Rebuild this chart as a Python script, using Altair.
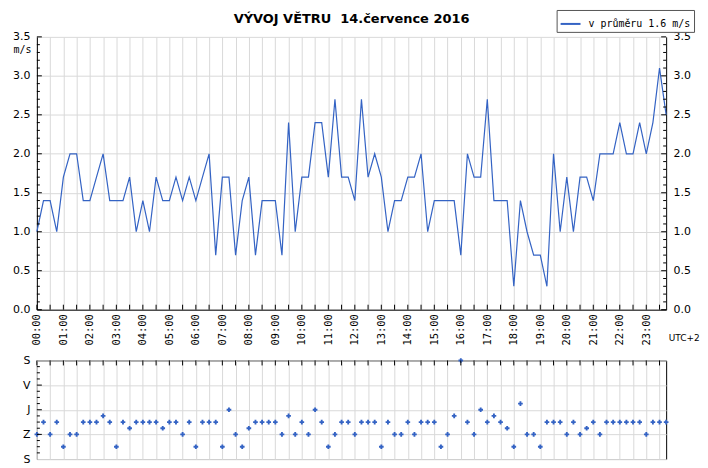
import altair as alt
import pandas as pd

# ---- data (15-minute records, 14 July 2016) ----
speed = [1.0, 1.4, 1.4, 1.0, 1.7, 2.0, 2.0, 1.4, 1.4, 1.7,
         2.0, 1.4, 1.4, 1.4, 1.7, 1.0, 1.4, 1.0, 1.7, 1.4,
         1.4, 1.7, 1.4, 1.7, 1.4, 1.7, 2.0, 0.7, 1.7, 1.7,
         0.7, 1.4, 1.7, 0.7, 1.4, 1.4, 1.4, 0.7, 2.4, 1.0,
         1.7, 1.7, 2.4, 2.4, 1.7, 2.7, 1.7, 1.7, 1.4, 2.7,
         1.7, 2.0, 1.7, 1.0, 1.4, 1.4, 1.7, 1.7, 2.0, 1.0,
         1.4, 1.4, 1.4, 1.4, 0.7, 2.0, 1.7, 1.7, 2.7, 1.4,
         1.4, 1.4, 0.3, 1.4, 1.0, 0.7, 0.7, 0.3, 2.0, 1.0,
         1.7, 1.0, 1.7, 1.7, 1.4, 2.0, 2.0, 2.0, 2.4, 2.0,
         2.0, 2.4, 2.0, 2.4, 3.1, 2.5]

direction = [270, 225, 270, 225, 315, 270, 270, 225, 225, 225,
             202.5, 225, 315, 225, 247.5, 225, 225, 225, 225, 247.5,
             225, 225, 270, 225, 315, 225, 225, 225, 315, 180,
             270, 315, 247.5, 225, 225, 225, 225, 270, 202.5, 270,
             225, 270, 180, 225, 315, 270, 225, 225, 270, 225,
             225, 225, 315, 225, 270, 270, 225, 270, 225, 225,
             225, 315, 270, 202.5, 0, 225, 270, 180, 225, 202.5,
             225, 247.5, 315, 157.5, 270, 270, 315, 225, 225, 225,
             270, 225, 270, 247.5, 225, 270, 225, 225, 225, 225,
             225, 225, 270, 225, 225, 225]

hours = [i * 0.25 for i in range(len(speed))]

title_text = "VÝVOJ VĚTRU\u00a0 14.července 2016"
legend_label = "v průměru 1.6 m/s"
tz_label = "UTC+2"
unit_label = "m/s"

half_hours = [i * 0.5 for i in range(48)]
y_major = [i * 0.5 for i in range(8)]
y_minor = [round(i * 0.1, 1) for i in range(36) if i % 5 != 0]
d_major = [0, 90, 180, 270, 360]
d_minor = [i * 22.5 for i in range(17) if i % 4 != 0]

# ---- styling ----
W, H1, H2 = 632, 274, 99
BLUE = "#3463c4"
GRID = "#d9d9d9"
FONT = "DejaVu Sans"
MONO = "DejaVu Sans Mono"

df = pd.DataFrame({"t": hours, "v": speed, "d": direction, "s": [legend_label] * len(speed)})
df_xt = pd.DataFrame({"t": half_hours})
df_ymaj = pd.DataFrame({"v": y_major})
df_ymin = pd.DataFrame({"v": y_minor})
df_dmaj = pd.DataFrame({"d": d_major[1:-1]})
df_dmin = pd.DataFrame({"d": d_minor})

xscale = alt.Scale(domain=[0, 23.75], nice=False, zero=False)
yscale = alt.Scale(domain=[0, 3.5], nice=False)
dscale = alt.Scale(domain=[0, 360], nice=False, reverse=True)

x_axis = alt.Axis(
    values=half_hours,
    labelExpr="datum.value % 1 == 0 ? (datum.value < 10 ? '0' : '') + datum.value + ':00' : ''",
    labelAngle=-90, labelFont=MONO, labelFontSize=10.5, labelColor="black",
    labelPadding=4, labelOverlap=False, grid=True, gridColor=GRID, ticks=False,
    domainColor="black", title=tz_label, titleX=W + 2, titleY=24,
    titleAlign="left", titleFont=FONT, titleFontSize=9,
    titleFontWeight="normal", titleColor="black",
)

y_left = alt.Axis(
    values=y_major, format=".1f", orient="left", labelFont=FONT,
    labelFontSize=11, labelColor="black", labelPadding=7, grid=True,
    gridColor=GRID, ticks=False, domainColor="black", title=unit_label,
    titleAngle=0, titleAlign="right", titleBaseline="middle", titleX=-6,
    titleY=13, titleFont=MONO, titleFontSize=10, titleFontWeight="normal",
    titleColor="black",
)

y_right = alt.Axis(
    values=y_major, format=".1f", orient="right", labelFont=FONT,
    labelFontSize=11, labelColor="black", labelPadding=7, grid=False,
    ticks=False, domainColor="black", title=None,
)

line = alt.Chart(df).mark_line(strokeWidth=1.2, interpolate="linear").encode(
    x=alt.X("t:Q", scale=xscale, axis=x_axis),
    y=alt.Y("v:Q", scale=yscale, axis=y_left),
    color=alt.Color(
        "s:N", scale=alt.Scale(range=[BLUE]),
        legend=alt.Legend(
            orient="none", legendX=522, legendY=-27, title=None,
            symbolType="stroke", symbolStrokeWidth=2, symbolSize=400,
            labelFont=MONO, labelFontSize=10, labelColor="black",
            fillColor="white", strokeColor="#555555", padding=3,
            labelOffset=7,
        ),
    ),
)

right_major = alt.Chart(df_ymaj).mark_rule(color="black").encode(
    y=alt.Y("v:Q", scale=yscale, axis=y_right),
    x=alt.value(W - 5), x2=alt.value(W),
)
right_minor = alt.Chart(df_ymin).mark_rule(color="black").encode(
    y=alt.Y("v:Q", scale=yscale, axis=None),
    x=alt.value(W - 3), x2=alt.value(W),
)
left_major = alt.Chart(df_ymaj).mark_rule(color="black").encode(
    y=alt.Y("v:Q", scale=yscale, axis=None),
    x=alt.value(0), x2=alt.value(5),
)
left_minor = alt.Chart(df_ymin).mark_rule(color="black").encode(
    y=alt.Y("v:Q", scale=yscale, axis=None),
    x=alt.value(0), x2=alt.value(3),
)
bottom_ticks = alt.Chart(df_xt).mark_rule(color="black").encode(
    x=alt.X("t:Q", scale=xscale, axis=None),
    y=alt.value(H1 - 5), y2=alt.value(H1),
)

top = alt.layer(
    line, right_major, right_minor, left_major, left_minor, bottom_ticks
).resolve_scale(x="shared", y="shared").resolve_axis(
    x="independent", y="independent"
).properties(
    width=W, height=H1,
    title=alt.TitleParams(title_text, font=FONT, fontSize=13, fontWeight="bold",
                          anchor="middle", frame="group", offset=5, color="black"),
    view=alt.ViewBackground(stroke=None),
)

# ---- direction panel ----
d_labels = "{'0': 'S', '90': 'V', '180': 'J', '270': 'Z', '360': 'S'}[datum.value + '']"

points = alt.Chart(df).mark_point(shape="cross", filled=True, size=22, color=BLUE,
                                  opacity=1, clip=False).encode(
    x=alt.X("t:Q", scale=xscale, axis=alt.Axis(
        values=half_hours, labels=False, ticks=False, domain=False, grid=True,
        gridColor=GRID, title=None)),
    y=alt.Y("d:Q", scale=dscale, axis=alt.Axis(
        values=d_major, labelExpr=d_labels, labelFont=FONT, labelFontSize=11,
        labelColor="black", labelPadding=7, labelOverlap=False, grid=True,
        gridColor=GRID, ticks=False, domain=False, title=None)),
)
top_ticks = alt.Chart(df_xt).mark_rule(color="black").encode(
    x=alt.X("t:Q", scale=xscale, axis=None),
    y=alt.value(0), y2=alt.value(5),
)
d_left_major = alt.Chart(df_dmaj).mark_rule(color="black").encode(
    y=alt.Y("d:Q", scale=dscale, axis=None),
    x=alt.value(0), x2=alt.value(5),
)
d_left_minor = alt.Chart(df_dmin).mark_rule(color="black").encode(
    y=alt.Y("d:Q", scale=dscale, axis=None),
    x=alt.value(0), x2=alt.value(3),
)

bottom = alt.layer(points, top_ticks, d_left_major, d_left_minor).resolve_scale(
    x="shared", y="shared"
).resolve_axis(x="independent", y="independent").properties(
    width=W, height=H2,
    view=alt.ViewBackground(stroke="black", strokeWidth=1),
)

chart = alt.vconcat(top, bottom, spacing=8).properties(
    padding={"left": 4, "top": 0, "right": 0, "bottom": 0},
).configure_view(stroke=None).configure(background="white")

chart.save("out.html", embed_options={"renderer": "svg", "actions": False})
